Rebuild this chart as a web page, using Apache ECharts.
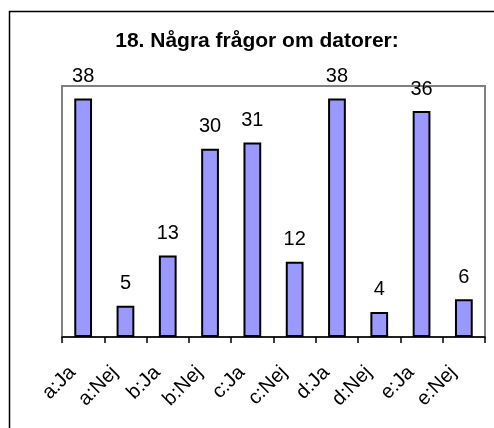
<!DOCTYPE html>
<html>
<head>
<meta charset="utf-8">
<script src="https://cdn.jsdelivr.net/npm/echarts@6/dist/echarts.min.js"></script>
<style>
  html, body { margin: 0; padding: 0; background: #fff; }
  #chart { width: 494px; height: 428px; }
</style>
</head>
<body>
<div id="chart"></div>
<script>
// Survey answers: yes/no counts per question
const titleText = '18. Några frågor om datorer:';
const categories = ['a:Ja', 'a:Nej', 'b:Ja', 'b:Nej', 'c:Ja', 'c:Nej', 'd:Ja', 'd:Nej', 'e:Ja', 'e:Nej'];
const counts = [38, 5, 13, 30, 31, 12, 38, 4, 36, 6];

const chart = echarts.init(document.getElementById('chart'), null, { renderer: 'canvas' });

chart.setOption({
  animation: false,
  backgroundColor: '#fff',
  title: {
    text: titleText,
    left: 252,
    textAlign: 'center',
    top: 26,
    textStyle: { fontFamily: 'Liberation Sans, Arial, sans-serif', fontSize: 21, fontWeight: 'bold', color: '#000' }
  },
  graphic: [{
    // outer chart frame, running off the right and bottom edges
    type: 'rect',
    shape: { x: 9.5, y: 11.5, width: 600, height: 600 },
    style: { fill: 'none', stroke: '#000', lineWidth: 1.5 },
    z: -1
  }],
  grid: {
    left: 62, right: 9, top: 86, bottom: 91,
    show: true,
    borderColor: '#808080',
    borderWidth: 2,
    backgroundColor: '#fff'
  },
  xAxis: {
    type: 'category',
    data: categories,
    axisLine: { lineStyle: { color: '#000', width: 1.5 } },
    axisTick: { show: true, length: 6, lineStyle: { color: '#000', width: 1.5 } },
    axisLabel: {
      rotate: 45,
      margin: 36,
      verticalAlign: 'bottom',
      padding: [0, 5, 0, 0],
      fontFamily: 'Liberation Sans, Arial, sans-serif',
      fontSize: 20,
      color: '#000',
      interval: 0
    }
  },
  yAxis: {
    type: 'value',
    min: 0,
    max: 40,
    show: false,
    splitLine: { show: false }
  },
  series: [{
    type: 'bar',
    data: counts,
    barWidth: '42%',
    itemStyle: { color: '#9999FF', borderColor: '#000', borderWidth: 2 },
    label: {
      show: true,
      position: 'top',
      distance: 12,
      fontFamily: 'Liberation Sans, Arial, sans-serif',
      fontSize: 20,
      color: '#000'
    }
  }]
});
</script>
</body>
</html>
